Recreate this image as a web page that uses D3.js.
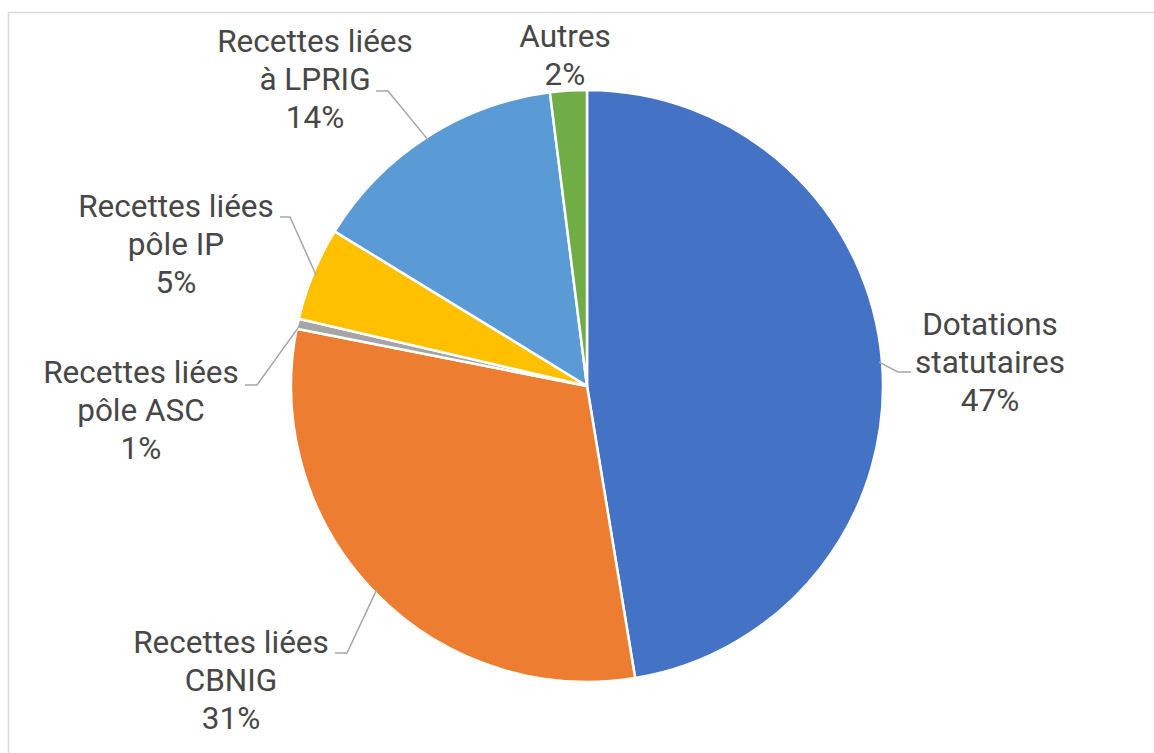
<!DOCTYPE html>
<html>
<head>
<meta charset="utf-8">
<script src="https://cdn.jsdelivr.net/npm/d3@7"></script>
<style>
  html, body { margin: 0; padding: 0; background: #fff; }
  svg { display: block; }
  text { font-family: Roboto, "Noto Sans", sans-serif; }
</style>
</head>
<body>
<svg id="chart" width="1154" height="753"></svg>
<script>
// ---- Data ----
const categories = [
  "Dotations statutaires",
  "Recettes liées CBNIG",
  "Recettes liées pôle ASC",
  "Recettes liées pôle IP",
  "Recettes liées à LPRIG",
  "Autres"
];
const labelLines = [
  ["Dotations", "statutaires"],
  ["Recettes liées", "CBNIG"],
  ["Recettes liées", "pôle ASC"],
  ["Recettes liées", "pôle IP"],
  ["Recettes liées", "à LPRIG"],
  ["Autres"]
];
const values = [47.4, 30.7, 0.55, 5.1, 14.25, 2.0];
const colors = ["#4472C4", "#ED7D31", "#A5A5A5", "#FFC000", "#5B9BD5", "#70AD47"];

// ---- Layout (label placement, not data) ----
const labelLayout = [
  { x: 990, y: 335, elbow: [898, 372], end: 911 },
  { x: 231, y: 653, elbow: [347, 653], end: 335 },
  { x: 141, y: 383, elbow: [257, 385], end: 245 },
  { x: 176, y: 217, elbow: [290, 217], end: 280 },
  { x: 315, y: 52,  elbow: [388, 91],  end: 376 },
  { x: 565, y: 47,  elbow: null, end: null }
];

const svg = d3.select("#chart");
const W = 1154, H = 753;

// chart border
svg.append("rect")
  .attr("x", 8.5).attr("y", 12.5)
  .attr("width", W + 20).attr("height", H + 20)
  .attr("fill", "none").attr("stroke", "#D9D9D9").attr("stroke-width", 1.5);

const cx = 587, cy = 386, r = 296;
const g = svg.append("g").attr("transform", `translate(${cx},${cy})`);

const total = d3.sum(values);
const pie = d3.pie().sort(null).value(d => d)(values);
const arc = d3.arc().innerRadius(0).outerRadius(r);

g.selectAll("path.slice")
  .data(pie)
  .join("path")
  .attr("class", "slice")
  .attr("d", arc)
  .attr("fill", (d, i) => colors[i])
  .attr("stroke", "#fff")
  .attr("stroke-width", 2.5)
  .attr("stroke-linejoin", "round");

// leader lines
pie.forEach((d, i) => {
  const L = labelLayout[i];
  if (!L.elbow) return;
  const a = (d.startAngle + d.endAngle) / 2;
  const px = cx + Math.sin(a) * (r - 3);
  const py = cy - Math.cos(a) * (r - 3);
  svg.append("path")
    .attr("d", d3.line()([[px, py], L.elbow, [L.end, L.elbow[1]]]))
    .attr("fill", "none")
    .attr("stroke", "#A6A6A6")
    .attr("stroke-width", 1.5);
});

// labels
const fmt = v => Math.round(v / total * 100) + "%";
const lineH = 37.8;
pie.forEach((d, i) => {
  const L = labelLayout[i];
  const lines = labelLines[i].concat([fmt(values[i])]);
  const t = svg.append("text")
    .attr("x", L.x).attr("y", L.y)
    .attr("text-anchor", "middle")
    .attr("font-size", 31.5)
    .attr("fill", "#474747");
  lines.forEach((s, k) => {
    t.append("tspan").attr("x", L.x).attr("y", L.y + k * lineH).text(s);
  });
});
</script>
</body>
</html>
